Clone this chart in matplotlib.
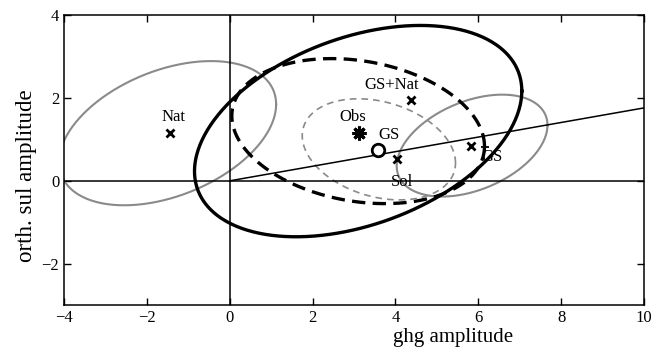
import numpy as np
import matplotlib
matplotlib.use("Agg")
import matplotlib.pyplot as plt

plt.rcParams['font.family'] = ['Liberation Serif', 'DejaVu Serif']
plt.rcParams['axes.unicode_minus'] = True

# Point estimates (ghg amplitude, orth. sul amplitude)
pt_names = ["Nat", "Obs", "GS", "GS+Nat", "Sol", "GS2", "GS2b"]
pt_x = [-1.45, 3.13, 3.57, 4.38, 4.04, 5.83, 6.17]
pt_y = [1.15, 1.15, 0.74, 1.95, 0.52, 0.84, 0.82]

# Uncertainty ellipses: centre, x-extent, y-extent, correlation
ell_cx = [-1.5, 5.85, 3.1, 3.1, 3.6]
ell_cy = [1.15, 0.85, 1.2, 1.2, 0.76]
ell_sx = [2.62, 1.82, 3.95, 3.05, 1.85]
ell_sy = [1.74, 1.23, 2.55, 1.75, 1.22]
ell_rho = [0.40, 0.40, 0.38, -0.21, -0.27]

# Scaling line through the origin
line_x = [0, 10]
line_y = [0, 1.76]

# Text labels
lab_text = ["Nat", "Obs", "GS", "GS+Nat", "Sol", "GS"]
lab_x = [-1.35, 2.98, 3.85, 3.9, 4.15, 6.32]
lab_y = [1.54, 1.54, 1.1, 2.32, -0.03, 0.57]

xticks = [-4, -2, 0, 2, 4, 6, 8, 10]
yticks = [-2, 0, 2, 4]

fig = plt.figure(figsize=(6.64, 3.59), dpi=100)
ax = fig.add_axes([0.0964, 0.150, 0.8735, 0.808])

def ellipse(i):
    t = np.linspace(0, 2 * np.pi, 400)
    r = ell_rho[i]
    x = ell_cx[i] + ell_sx[i] * np.cos(t)
    y = ell_cy[i] + ell_sy[i] * (r * np.cos(t) + np.sqrt(1 - r * r) * np.sin(t))
    return x, y

gray = "#8a8a8a"
styles = [
    dict(color=gray, lw=1.5, ls='-'),
    dict(color=gray, lw=1.5, ls='-'),
    dict(color='black', lw=2.4, ls='-'),
    dict(color='black', lw=2.4, ls=(0, (4, 2.2))),
    dict(color=gray, lw=1.2, ls=(0, (4, 3))),
]
for i in range(len(ell_cx)):
    x, y = ellipse(i)
    ax.plot(x, y, **styles[i])

ax.axhline(0, color='black', lw=1.1)
ax.axvline(0, color='black', lw=1.1)
ax.plot(line_x, line_y, color='black', lw=1.1)

# markers
ax.plot(pt_x[0], pt_y[0], 'x', color='black', ms=6, mew=2)
ax.plot(pt_x[1], pt_y[1], marker=(8, 2, 0), color='black', ms=10, mew=2.2, ls='none')
ax.plot(pt_x[2], pt_y[2], 'o', mfc='white', mec='black', ms=9, mew=2)
ax.plot(pt_x[3], pt_y[3], 'x', color='black', ms=6, mew=2)
ax.plot(pt_x[4], pt_y[4], 'x', color='black', ms=6, mew=2)
ax.plot(pt_x[5], pt_y[5], 'x', color='black', ms=6, mew=2)
ax.plot(pt_x[6], pt_y[6], '+', color='black', ms=6, mew=1.3)

for t, x, y in zip(lab_text, lab_x, lab_y):
    ax.text(x, y, t, ha='center', va='center', fontsize=12)

ax.set_xlim(-4, 10)
ax.set_ylim(-3, 4)
ax.set_xticks(xticks)
ax.set_yticks(yticks)
ax.tick_params(direction='in', top=True, right=True, labelsize=12, length=5, width=1)
for s in ax.spines.values():
    s.set_linewidth(1.1)
ax.set_xlabel("ghg amplitude", fontsize=15)
ax.set_ylabel("orth. sul amplitude", fontsize=16.5)
ax.xaxis.set_label_coords(0.67, -0.078)
ax.yaxis.set_label_coords(-0.046, 0.448)

fig.savefig("out.png", dpi=100)
